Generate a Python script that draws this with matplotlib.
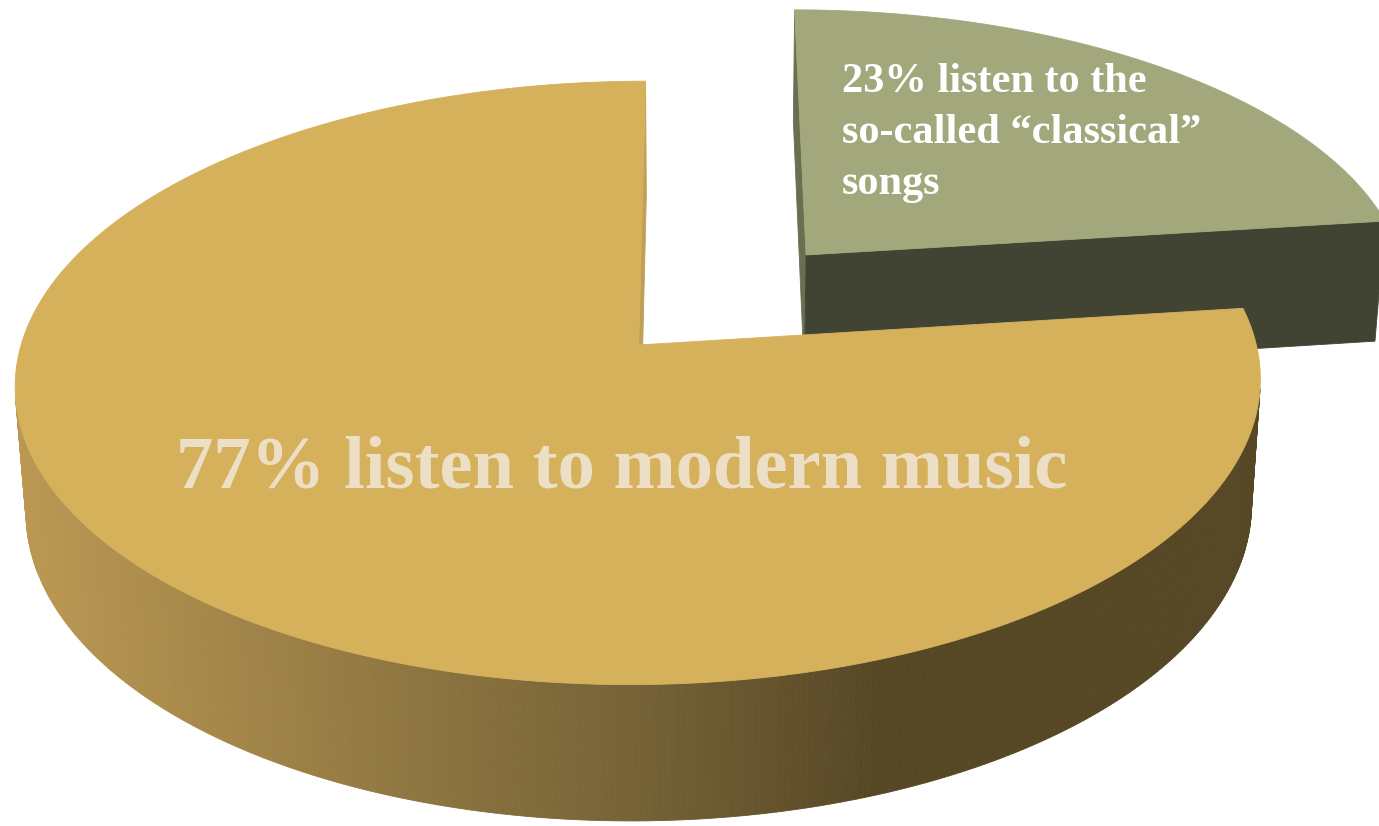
import numpy as np
import matplotlib
matplotlib.use("Agg")
import matplotlib.pyplot as plt
from matplotlib.patches import Polygon

# ---------------- data ----------------
values = [23, 77]                       # percent, pie starts at 12 o'clock, clockwise
slice_names = ["classical", "modern"]
explode = [0.27, 0.15]
top_colors = ["#A3A87C", "#D6B15C"]
start_cut_colors = ["#6A6F52", "#BFA056"]
end_cut_colors = ["#414433", "#BFA056"]
side_x_anchors = [[0, 1379], [15, 640, 880, 1379]]
side_rgb_anchors = [[(65, 68, 51), (65, 68, 51)],
                    [(188, 153, 83), (117, 98, 54), (86, 71, 37), (86, 71, 37)]]

small_label_lines = ["23% listen to the", "so-called \u201cclassical\u201d", "songs"]
big_label = "77% listen to modern music"

# ---------------- projection (perspective 3-D pie) ----------------
W, H = 1379, 826
ELEV = np.radians(28.3)
SE, CE = np.sin(ELEV), np.cos(ELEV)
D = CE / 0.124
S = 609.0
F = S * D
CX, CY = 700.0, 312.0
THICK = 0.234
CAM = np.array([0.0, D * CE, D * SE])


def world(off, theta, r, z):
    t = np.radians(theta)
    return np.array([off[0] + r * np.sin(t), off[1] - r * np.cos(t), z])


def proj(p):
    depth = D - p[1] * CE - p[2] * SE
    return (CX + F * p[0] / depth, CY + F * (p[1] * SE - p[2] * CE) / depth)


def depth_of(p):
    return D - p[1] * CE - p[2] * SE


fig = plt.figure(figsize=(W / 100, H / 100), dpi=100)
ax = fig.add_axes([0, 0, 1, 1])
ax.set_xlim(0, W)
ax.set_ylim(H, 0)
ax.axis("off")

total = float(sum(values))
angles = np.concatenate([[0.0], np.cumsum(values) / total * 360.0])

slices = []
for i, v in enumerate(values):
    a, b = angles[i], angles[i + 1]
    mid = np.radians((a + b) / 2)
    off = (explode[i] * np.sin(mid), -explode[i] * np.cos(mid))
    slices.append((i, a, b, off))

# far slices first
slices.sort(key=lambda s: -depth_of(np.array([s[3][0], s[3][1], 0.0])))

z = 1
for i, a, b, off in slices:
    faces = []
    thetas = np.linspace(a, b, max(3, int((b - a) / 0.5) + 1))
    xa = side_x_anchors[i]
    rgb = np.array(side_rgb_anchors[i]) / 255.0
    # outer curved side
    for t0, t1 in zip(thetas[:-1], thetas[1:]):
        tm = np.radians((t0 + t1) / 2)
        pm = world(off, (t0 + t1) / 2, 1.0, -THICK / 2)
        n = np.array([np.sin(tm), -np.cos(tm), 0.0])
        if n @ (CAM - pm) <= 0:
            continue
        quad = [proj(world(off, t0, 1.0, 0.0)), proj(world(off, t1, 1.0, 0.0)),
                proj(world(off, t1, 1.0, -THICK)), proj(world(off, t0, 1.0, -THICK))]
        sx = np.mean([q[0] for q in quad])
        col = [np.interp(sx, xa, rgb[:, k]) for k in range(3)]
        faces.append((depth_of(pm), quad, col))
    # cut faces
    tip_top = np.array([off[0], off[1], 0.0])
    tip_bot = np.array([off[0], off[1], -THICK])
    for ang, sign, col in [(a, -1, start_cut_colors[i]), (b, 1, end_cut_colors[i])]:
        t = np.radians(ang)
        n = sign * np.array([np.cos(t), np.sin(t), 0.0])
        pm = (tip_top + world(off, ang, 1.0, -THICK)) / 2
        if n @ (CAM - pm) <= 0:
            continue
        quad = [proj(tip_top), proj(world(off, ang, 1.0, 0.0)),
                proj(world(off, ang, 1.0, -THICK)), proj(tip_bot)]
        faces.append((depth_of(pm), quad, col))
    faces.sort(key=lambda f: -f[0])
    for _, quad, col in faces:
        ax.add_patch(Polygon(quad, closed=True, facecolor=col, edgecolor=col,
                             lw=0.6, zorder=z))
        z += 1
    top = [proj(tip_top)] + [proj(world(off, t, 1.0, 0.0)) for t in thetas]
    ax.add_patch(Polygon(top, closed=True, facecolor=top_colors[i],
                         edgecolor=top_colors[i], lw=0.6, zorder=z))
    z += 1

serif = ["Liberation Serif", "DejaVu Serif"]
ax.text(622, 488, big_label, ha="center", va="baseline", fontsize=53.7,
        fontweight="bold", family=serif, color="#EDDFC6", zorder=z + 1)
for j, line in enumerate(small_label_lines):
    ax.text(842, 92 + j * 51, line, ha="left", va="baseline", fontsize=30.5,
            fontweight="bold", family=serif, color="white", zorder=z + 1)

fig.savefig("out.png", dpi=100)
